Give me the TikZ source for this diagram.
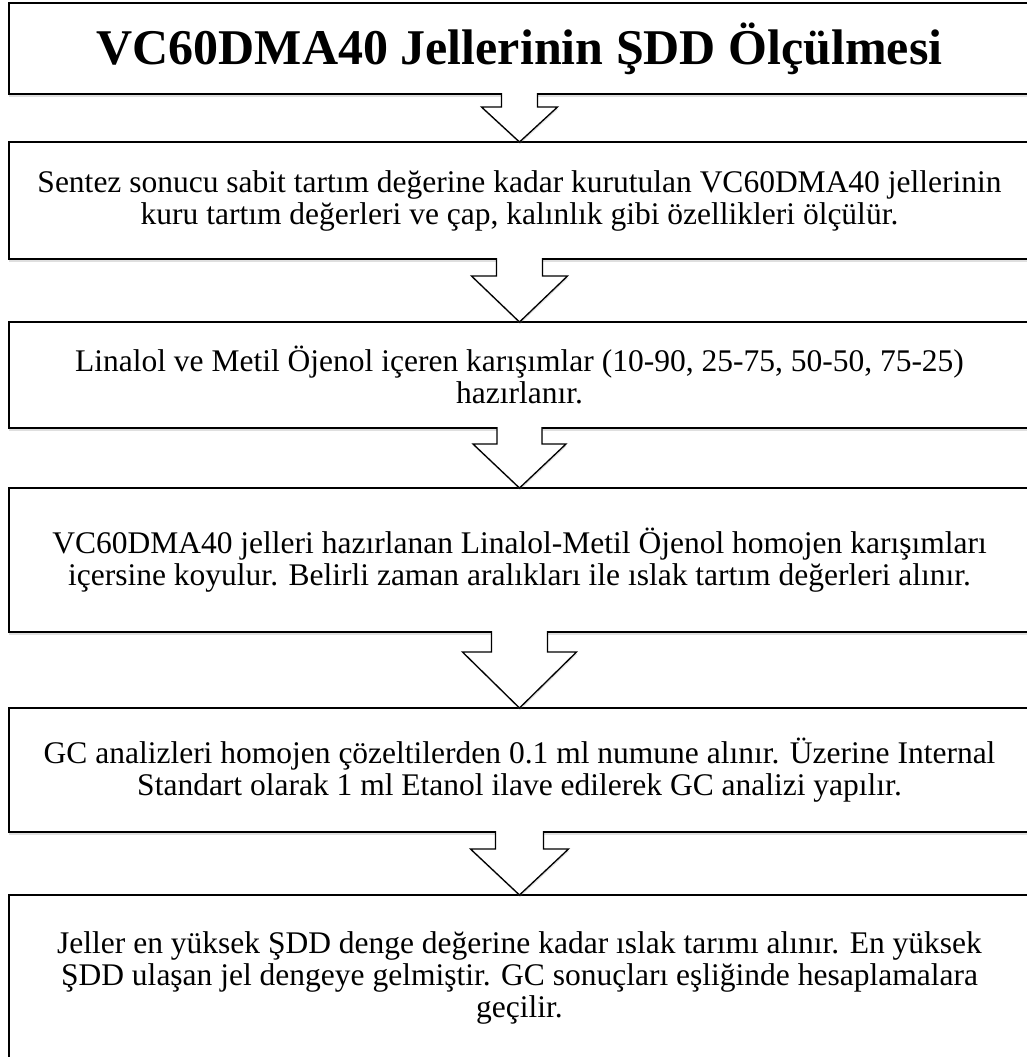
\documentclass[tikz,border=0pt]{standalone}
\usepackage{fontspec}
\setmainfont{Liberation Serif}
\usetikzlibrary{calc,shadows}

\begin{document}
\begin{tikzpicture}[x=1pt,y=-1pt,
    stepbox/.style={draw, line width=1.3pt, fill=white, minimum width=1021pt,
        align=center, inner sep=0pt, outer sep=0pt,
        font=\fontsize{31.5}{32}\selectfont,
        drop shadow={shadow xshift=0pt, shadow yshift=-2.5pt, opacity=0.25}},
    titlebox/.style={stepbox, font=\fontsize{50}{54}\selectfont\bfseries},
    blockarrow/.style={draw, line width=1.3pt, fill=white, line join=miter,
        drop shadow={shadow xshift=0.5pt, shadow yshift=-2pt, opacity=0.25}}]
    \newcommand{\midx}{519.5}
    % block arrow: from, to, half shaft, half head, notch depth
    \newcommand{\flowarrow}[5]{%
        \filldraw[blockarrow] ($(#1.south)+(-#3,-1)$) -- ($(#1.south)+(-#3,#5)$)
            -- ($(#1.south)+(-#4,#5)$) -- (#2.north) -- ($(#1.south)+(#4,#5)$)
            -- ($(#1.south)+(#3,#5)$) -- ($(#1.south)+(#3,-1)$);}

    \useasboundingbox (0,0) rectangle (1027,1057);

    \node[titlebox, minimum height=91pt] (title) at (\midx,48.5) {VC60DMA40 Jellerinin ŞDD Ölçülmesi};

    \node[stepbox, minimum height=117pt] (kuru) at (\midx,200.5) {Sentez sonucu sabit tartım değerine kadar kurutulan VC60DMA40 jellerinin\\ kuru tartım değerleri ve çap, kalınlık gibi özellikleri ölçülür.};

    \node[stepbox, minimum height=106pt] (karisim) at (\midx,375) {Linalol ve Metil Öjenol içeren karışımlar (10-90, 25-75, 50-50, 75-25)\\ hazırlanır.};

    \node[stepbox, minimum height=144pt] (islak) at (\midx,560) {VC60DMA40 jelleri hazırlanan Linalol-Metil Öjenol homojen karışımları\\ içersine koyulur. Belirli zaman aralıkları ile ıslak tartım değerleri alınır.};

    \node[stepbox, minimum height=124pt] (gc) at (\midx,770) {GC analizleri homojen çözeltilerden 0.1 ml numune alınır. Üzerine Internal\\ Standart olarak 1 ml Etanol ilave edilerek GC analizi yapılır.};

    \node[stepbox, minimum height=165pt] (denge) at (\midx,977.5) {Jeller en yüksek ŞDD denge değerine kadar ıslak tarımı alınır. En yüksek\\ ŞDD ulaşan jel dengeye gelmiştir. GC sonuçları eşliğinde hesaplamalara\\ geçilir.};

    \flowarrow{title}{kuru}{18}{38}{13}
    \flowarrow{kuru}{karisim}{23}{48}{17}
    \flowarrow{karisim}{islak}{22.5}{46.5}{16}
    \flowarrow{islak}{gc}{28}{57}{20}
    \flowarrow{gc}{denge}{24}{49}{17}

\end{tikzpicture}
\end{document}
